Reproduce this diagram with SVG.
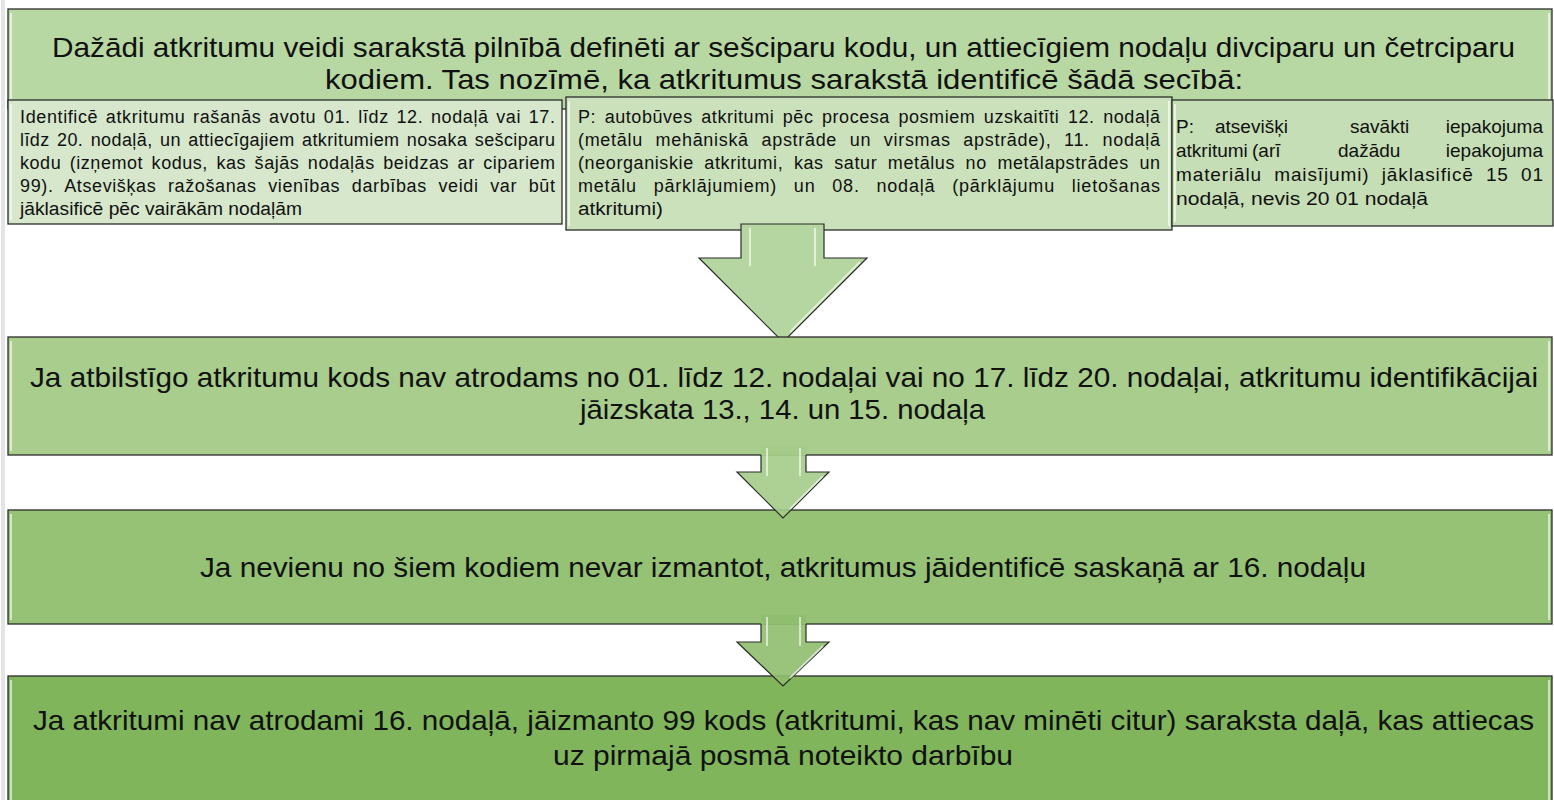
<svg xmlns="http://www.w3.org/2000/svg" width="1554" height="800" viewBox="0 0 1554 800">
<style>
.box{stroke:#2b2b2b;stroke-width:1.3}
.hl{stroke:#ffffff;stroke-opacity:0.6;stroke-width:2;fill:none}
.t{font-family:"Liberation Sans",Arial,sans-serif;fill:#111}
.big{font-size:28px}
.sm{font-size:18px}
.sm3{font-size:19px}
.arrow{stroke:#2b2b2b;stroke-width:1.2;stroke-linejoin:miter}
</style>
<rect x="0" y="0" width="1554" height="800" fill="#ffffff"/>
<rect x="1" y="0" width="4" height="800" fill="#e4e4e4"/>

<g id="top">
<rect class="box" x="8" y="9" width="1544" height="100" fill="#b8d8a3"/>
<line class="hl" x1="11" y1="13" x2="11" y2="100"/>
<line class="hl" x1="1549" y1="13" x2="1549" y2="100"/>
<text class="t big" x="52" y="57" textLength="1463" lengthAdjust="spacingAndGlyphs">Dažādi atkritumu veidi sarakstā pilnībā definēti ar sešciparu kodu, un attiecīgiem nodaļu divciparu un četrciparu</text>
<text class="t big" x="325" y="89" textLength="918" lengthAdjust="spacingAndGlyphs">kodiem. Tas nozīmē, ka atkritumus sarakstā identificē šādā secībā:</text>
</g>

<g id="sub1">
<rect class="box" x="8" y="100" width="554" height="124" fill="#d6e7cc"/>
<line class="hl" x1="11" y1="104" x2="11" y2="220"/>
<text class="t sm" x="20" y="123" word-spacing="2" textLength="535">Identificē atkritumu rašanās avotu 01. līdz 12. nodaļā vai 17.</text>
<text class="t sm" x="20" y="146" word-spacing="2" textLength="535">līdz 20. nodaļā, un attiecīgajiem atkritumiem nosaka sešciparu</text>
<text class="t sm" x="20" y="169" word-spacing="3" textLength="535">kodu (izņemot kodus, kas šajās nodaļās beidzas ar cipariem</text>
<text class="t sm" x="20" y="192" word-spacing="6" textLength="535">99). Atsevišķas ražošanas vienības darbības veidi var būt</text>
<text class="t sm" x="20" y="215" textLength="282" lengthAdjust="spacingAndGlyphs">jāklasificē pēc vairākām nodaļām</text>
</g>

<g id="sub2">
<rect class="box" x="566" y="97" width="606" height="133" fill="#cbe1bb"/>
<line class="hl" x1="569" y1="101" x2="569" y2="226"/>
<line class="hl" x1="1169" y1="101" x2="1169" y2="226"/>
<text class="t sm" x="578" y="123" word-spacing="3" textLength="582">P: autobūves atkritumi pēc procesa posmiem uzskaitīti 12. nodaļā</text>
<text class="t sm" x="578" y="146" word-spacing="7" textLength="582">(metālu mehāniskā apstrāde un virsmas apstrāde), 11. nodaļā</text>
<text class="t sm" x="578" y="169" word-spacing="5" textLength="582">(neorganiskie atkritumi, kas satur metālus no metālapstrādes un</text>
<text class="t sm" x="578" y="192" word-spacing="11" textLength="582">metālu pārklājumiem) un 08. nodaļā (pārklājumu lietošanas</text>
<text class="t sm" x="578" y="215" textLength="85" lengthAdjust="spacingAndGlyphs">atkritumi)</text>
</g>

<g id="sub3">
<rect class="box" x="1172" y="100" width="381" height="126" fill="#c6deb5"/>
<line class="hl" x1="1175" y1="104" x2="1175" y2="222"/>
<text class="t sm3" y="133"><tspan x="1176">P:</tspan><tspan x="1215">atsevišķi</tspan><tspan x="1350">savākti</tspan><tspan x="1543" text-anchor="end">iepakojuma</tspan></text>
<text class="t sm3" y="157"><tspan x="1176">atkritumi</tspan><tspan x="1252">(arī</tspan><tspan x="1338">dažādu</tspan><tspan x="1543" text-anchor="end">iepakojuma</tspan></text>
<text class="t sm3" x="1176" y="181" word-spacing="6" textLength="367">materiālu maisījumi) jāklasificē 15 01</text>
<text class="t sm3" x="1176" y="205" textLength="252" lengthAdjust="spacingAndGlyphs">nodaļā, nevis 20 01 nodaļā</text>
</g>

<g id="connectors">
<g id="arrow1">
<path class="arrow" d="M741,224 L824,224 L824,258 L867,258 L783,342 L699,258 L741,258 Z" fill="#b5d6a0"/>
<line class="hl" x1="750" y1="228" x2="750" y2="266" stroke-opacity="0.5"/>
<line class="hl" x1="815" y1="228" x2="815" y2="266" stroke-opacity="0.5"/>
<line class="hl" x1="860" y1="262" x2="790" y2="332" stroke-opacity="0.5"/>
</g>
</g>

<g id="box2">
<rect class="box" x="8" y="337" width="1544" height="118" fill="#a8cd8c"/>
<line class="hl" x1="11" y1="341" x2="11" y2="451"/>
<line class="hl" x1="1549" y1="341" x2="1549" y2="451"/>
<text class="t big" x="30" y="387" textLength="1508" lengthAdjust="spacingAndGlyphs">Ja atbilstīgo atkritumu kods nav atrodams no 01. līdz 12. nodaļai vai no 17. līdz 20. nodaļai, atkritumu identifikācijai</text>
<text class="t big" x="580" y="419" textLength="405" lengthAdjust="spacingAndGlyphs">jāizskata 13., 14. un 15. nodaļa</text>
</g>

<g id="box3">
<rect class="box" x="8" y="510" width="1544" height="114" fill="#95c275"/>
<line class="hl" x1="11" y1="514" x2="11" y2="620"/>
<line class="hl" x1="1549" y1="514" x2="1549" y2="620"/>
<text class="t big" x="200" y="577" textLength="1166" lengthAdjust="spacingAndGlyphs">Ja nevienu no šiem kodiem nevar izmantot, atkritumus jāidentificē saskaņā ar 16. nodaļu</text>
</g>

<g id="box4">
<rect class="box" x="8" y="676" width="1544" height="130" fill="#80b55c"/>
<line class="hl" x1="11" y1="680" x2="11" y2="800"/>
<line class="hl" x1="1549" y1="680" x2="1549" y2="800"/>
<text class="t big" x="33" y="730" textLength="1501" lengthAdjust="spacingAndGlyphs">Ja atkritumi nav atrodami 16. nodaļā, jāizmanto 99 kods (atkritumi, kas nav minēti citur) saraksta daļā, kas attiecas</text>
<text class="t big" x="553" y="765" textLength="460" lengthAdjust="spacingAndGlyphs">uz pirmajā posmā noteikto darbību</text>
</g>

<g id="connectors2">
<g id="arrow2">
<path d="M761,446 L806,446 L806,455 L761,455 Z" fill="#a4cc88"/>
<path class="arrow" d="M761,455 L761,472 L737,472 L783,518 L829,472 L806,472 L806,455" fill="#a4cc88" fill-opacity="0.9"/>
<line class="hl" x1="767" y1="448" x2="767" y2="476" stroke-opacity="0.5"/>
<line class="hl" x1="800" y1="448" x2="800" y2="476" stroke-opacity="0.5"/>
<line class="hl" x1="823" y1="476" x2="790" y2="509" stroke-opacity="0.5"/>
</g>
<g id="arrow3">
<path d="M761,615 L806,615 L806,624 L761,624 Z" fill="#8fbe6e"/>
<path class="arrow" d="M761,624 L761,642 L737,642 L783,686 L829,642 L806,642 L806,624" fill="#8fbe6e" fill-opacity="0.9"/>
<line class="hl" x1="767" y1="617" x2="767" y2="646" stroke-opacity="0.5"/>
<line class="hl" x1="800" y1="617" x2="800" y2="646" stroke-opacity="0.5"/>
<line class="hl" x1="823" y1="646" x2="790" y2="678" stroke-opacity="0.5"/>
</g>
</g>
</svg>
